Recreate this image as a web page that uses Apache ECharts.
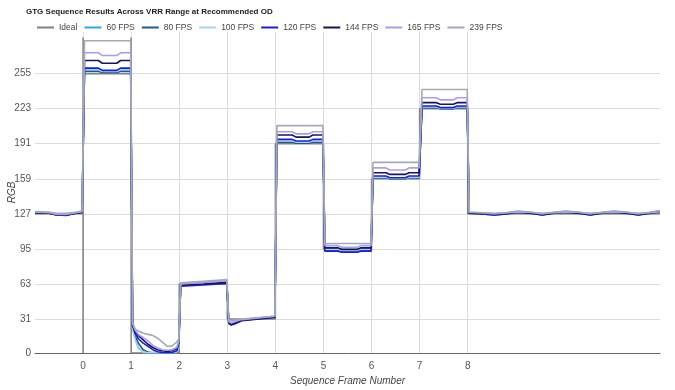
<!DOCTYPE html>
<html>
<head>
<meta charset="utf-8">
<script src="https://cdn.jsdelivr.net/npm/echarts@6/dist/echarts.min.js"></script>
<style>html,body{margin:0;padding:0;background:#fff}#c{width:675px;height:390px}</style>
</head>
<body>
<div id="c"></div>
<script>
const titleText = 'GTG Sequence Results Across VRR Range at Recommended OD';
const seriesNames = ['Ideal', '60 FPS', '80 FPS', '100 FPS', '120 FPS', '144 FPS', '165 FPS', '239 FPS'];
const seriesColors = ['#808080', '#2aa6e8', '#1f5a8c', '#a6d4f4', '#1c1cd8', '#15155a', '#a99bf2', '#a2aab6'];
const xTickLabels = [0, 1, 2, 3, 4, 5, 6, 7, 8];
const yTickLabels = [0, 31, 63, 95, 127, 159, 191, 223, 255];

const idealX = [-1, 0, 0, 0, 0, 1, 1, 1, 2, 2, 3, 3, 4, 4, 5, 5, 6, 6, 7, 7, 8, 8, 12];
const idealY = [127, 127, 0, 288, 255, 255, 288, 0, 0, 63, 63, 31, 31, 191, 191, 95, 95, 159, 159, 223, 223, 127, 127];

const frameX = [
  -1, -0.7, -0.55, -0.35, -0.15, -0.02,
  0.03, 0.32, 0.4, 0.7, 0.78, 0.99,
  1.03, 1.08, 1.15, 1.25, 1.35, 1.45, 1.55, 1.65, 1.75, 1.85, 1.95, 1.99,
  2.03, 2.5, 2.99,
  3.03, 3.08, 3.15, 3.3, 3.99,
  4.03, 4.35, 4.43, 4.7, 4.78, 4.99,
  5.03, 5.3, 5.38, 5.7, 5.78, 5.99,
  6.03, 6.3, 6.38, 6.7, 6.78, 6.99,
  7.05, 7.35, 7.43, 7.7, 7.78, 7.99,
  8.03, 8.3, 8.55, 8.8, 9.05, 9.3, 9.55, 9.8, 10.05, 10.3, 10.55, 10.8, 11.05, 11.3, 11.55, 11.8, 12
];

const fps60 = [
  128.5,128,126.5,126.5,128,129,
  258,258,256.5,256.5,258,258,
  22,14,5,0.5,0,0,0,0,0,0,0.5,3,
  62,63,64.5,
  28,27,27.5,30,33,
  192.5,192.5,191.5,191.5,192.5,192.5,
  94,94,93,93,94,94,
  160,160,159,159,160,160,
  224,224,223,223,224,224,
  128,127.5,126.5,127.5,129,128,126.5,128,129,128,126.5,128,129,128,126.5,128,129.5
];
const fps80 = [
  128,127.5,126,126,127.5,128.5,
  257,257,256,256,257,257,
  24,16,9,3,0.8,0.3,0.2,0.2,0.2,0.2,1,4,
  62,63,64.5,
  27.5,26.5,27,30,33,
  192.5,192.5,191.5,191.5,192.5,192.5,
  94,94,93,93,94,94,
  160,160,159,159,160,160,
  224,224,223,223,224,224,
  127.5,127,126,127,128.5,127.5,126,127.5,128.5,127.5,126,127.5,128.5,127.5,126,127.5,129
];
const fps100 = [
  129,128.5,127,127,128.5,129.5,
  258.5,258.5,257,257,258.5,258.5,
  22,13,4,0.8,0.3,0.2,0.2,0.2,0.2,0.2,1,4,
  62.5,63.5,65,
  28.5,27.5,28,30.5,33.5,
  193.5,193.5,192.5,192.5,193.5,193.5,
  94.5,94.5,93.5,93.5,94.5,94.5,
  160.5,160.5,159.5,159.5,160.5,160.5,
  224.5,224.5,223.5,223.5,224.5,224.5,
  128.5,128,127,128,129.5,128.5,127,128.5,129.5,128.5,127,128.5,129.5,128.5,127,128.5,130
];
const fps120 = [
  128,127.5,126,125.5,127.5,128.5,
  260,260,258,258,260,260,
  25,18,13,9,6,3,1.2,0.6,0.5,0.5,2,9,
  61,62,63.5,
  27,25.5,26.5,29.5,32.5,
  195,195,193.5,193.5,195,195,
  93,93,92,92,93,93,
  161.5,161.5,160,160,161.5,161.5,
  225.5,225.5,224,224,225.5,225.5,
  127.5,127,126,127,128.5,127.5,126,127.5,128.5,127.5,126,127.5,128.5,127.5,126,127.5,129
];
const fps144 = [
  128,127.5,126,126,127.5,128.5,
  267,267,264.5,264.5,267,267,
  26,20,16,12,8,5,3,2,1.5,2,4,9,
  62,63,64.5,
  27.5,26,27,30,33,
  199,199,197,197,199,199,
  96,96,94.5,94.5,96,96,
  164.5,164.5,163,163,164.5,164.5,
  228.5,228.5,227,227,228.5,228.5,
  128,127.5,126.5,127.5,129,128,126.5,128,129,128,126.5,128,129,128,126.5,128,129.5
];
const fps165 = [
  128.5,128,126.5,126.5,128,129,
  274,274,271.5,271.5,274,274,
  27,21,17,14,11,7,4.5,3,2.5,3,5,10,
  63,64.5,66,
  28.5,27.5,28.5,30.5,33.5,
  202,202,200,200,202,202,
  98,98,96.5,96.5,98,98,
  169,169,167,167,169,169,
  233,233,231,231,233,233,
  128.5,128,127,128,129.5,128.5,127,128.5,129.5,128.5,127,128.5,129.5,128.5,127,128.5,130
];
const fps239 = [
  129,128.5,127.5,127.5,128.5,129.5,
  285,285,285,285,285,285,
  28,22,20,18,17,16,13.5,10,6,6.5,10,13,
  64,65.5,67,
  30,29.5,30,31,33.5,
  207.5,207.5,207.5,207.5,207.5,207.5,
  100,100,100,100,100,100,
  174,174,174,174,174,174,
  240.5,240.5,240.5,240.5,240.5,240.5,
  128.5,128,127.5,128,128.5,128.5,127.5,128,128.5,128.5,127.5,128,128.5,128.5,127.5,128,129
];

const measured = [fps60, fps80, fps100, fps120, fps144, fps165, fps239];

const chart = echarts.init(document.getElementById('c'), null, {renderer: 'canvas'});
const font = "'Liberation Sans', Arial, sans-serif";

const series = [];
series.push({
  name: seriesNames[0], type: 'line', showSymbol: false, symbol: 'none',
  data: idealX.map((x, i) => [x, idealY[i]]),
  lineStyle: {width: 1.5, color: seriesColors[0]}, itemStyle: {color: seriesColors[0]}, z: 2
});
measured.forEach((arr, k) => {
  series.push({
    name: seriesNames[k + 1], type: 'line', showSymbol: false, symbol: 'none',
    data: frameX.map((x, i) => [x, arr[i]]),
    lineStyle: {width: 1.6, color: seriesColors[k + 1]}, itemStyle: {color: seriesColors[k + 1]}, z: 3
  });
});

chart.setOption({
  animation: false,
  backgroundColor: '#fff',
  title: {
    text: titleText, left: 26, top: 6, padding: [2, 0, 2, 0],
    textStyle: {fontSize: 8, fontWeight: 'bold', color: '#222', fontFamily: font}
  },
  legend: {
    data: seriesNames, left: 32, top: 18, icon: 'rect', itemWidth: 17, itemHeight: 2, itemGap: 7,
    textStyle: {fontSize: 8.5, color: '#444', fontFamily: font}
  },
  grid: {left: 35, right: 15, top: 32, bottom: 37, containLabel: false, outerBoundsMode: 'none'},
  xAxis: {
    type: 'value', min: -1, max: 12,
    name: 'Sequence Frame Number', nameLocation: 'middle', nameGap: 23, nameMoveOverlap: false,
    nameTextStyle: {fontStyle: 'italic', fontSize: 10, color: '#444', fontFamily: font},
    axisLine: {show: true, onZero: false, lineStyle: {color: '#666', width: 1}},
    axisTick: {show: false, customValues: xTickLabels},
    axisLabel: {customValues: xTickLabels, fontSize: 10, color: '#555', margin: 8, fontFamily: font},
    splitLine: {show: true, lineStyle: {color: '#dcdcdc', width: 1}}
  },
  yAxis: {
    type: 'value', min: 0, max: 293,
    name: 'RGB', nameLocation: 'middle', nameGap: 18, nameMoveOverlap: false,
    nameTextStyle: {fontStyle: 'italic', fontSize: 10, color: '#444', fontFamily: font},
    axisLine: {show: false},
    axisTick: {show: false, customValues: yTickLabels},
    axisLabel: {customValues: yTickLabels, fontSize: 10, color: '#555', margin: 4, fontFamily: font},
    splitLine: {show: true, lineStyle: {color: '#dcdcdc', width: 1}}
  },
  series: series
});
</script>
</body>
</html>
